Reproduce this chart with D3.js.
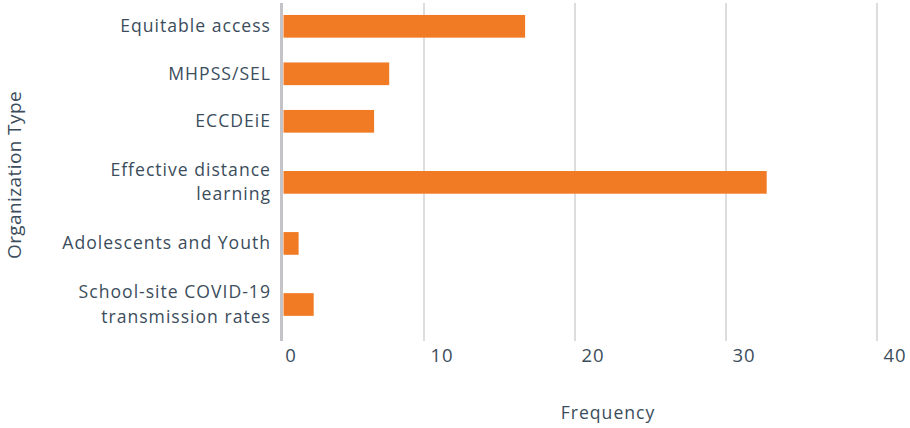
<!DOCTYPE html>
<html>
<head>
<meta charset="utf-8">
<script src="https://cdn.jsdelivr.net/npm/d3@7"></script>
<style>
  html, body { margin: 0; padding: 0; background: #fff; }
  svg { display: block; font-family: "Open Sans", "Noto Sans", sans-serif; }
</style>
</head>
<body>
<svg id="chart" width="910" height="428"></svg>
<script>
const categories = [
  "Equitable access",
  "MHPSS/SEL",
  "ECCDEiE",
  "Effective distance learning",
  "Adolescents and Youth",
  "School-site COVID-19 transmission rates"
];
const categoryLines = [
  ["Equitable access"],
  ["MHPSS/SEL"],
  ["ECCDEiE"],
  ["Effective distance", "learning"],
  ["Adolescents and Youth"],
  ["School-site COVID-19", "transmission rates"]
];
const values = [16, 7, 6, 32, 1, 2];
const xTicks = [0, 10, 20, 30, 40];
const xTitle = "Frequency";
const yTitle = "Organization Type";

const svg = d3.select("#chart");
const textColor = "#3b4d5c";
const barColor = "#f17b24";

const x = d3.scaleLinear().domain([0, 40]).range([283.5, 887.5]);
const y = d3.scaleLinear().domain([0, 2, 5]).range([26.3, 121.3, 304.5]);
const barH = 22.7;
const plotTop = 3, plotBottom = 341;
const gridOffset = -10.5;

// gridlines
svg.append("g").selectAll("line")
  .data(xTicks.filter(t => t > 0))
  .join("line")
  .attr("x1", d => x(d) + gridOffset)
  .attr("x2", d => x(d) + gridOffset)
  .attr("y1", plotTop).attr("y2", plotBottom)
  .attr("stroke", "#cfcfd3").attr("stroke-width", 1.4);

// bars
svg.append("g").selectAll("rect")
  .data(values)
  .join("rect")
  .attr("x", x(0))
  .attr("y", (d, i) => y(i) - barH / 2)
  .attr("width", d => x(d) - x(0))
  .attr("height", barH)
  .attr("fill", barColor);

// y axis line
svg.append("line")
  .attr("x1", x(0) - 2).attr("x2", x(0) - 2)
  .attr("y1", plotTop).attr("y2", plotBottom)
  .attr("stroke", "#c3c3c8").attr("stroke-width", 3);

// category labels
const lineH = 24.5;
const labs = svg.append("g")
  .attr("font-size", 17.6).attr("fill", textColor).attr("text-anchor", "end")
  .attr("letter-spacing", "1px");
categoryLines.forEach((lines, i) => {
  const n = lines.length;
  const t = labs.append("text").attr("x", 271);
  lines.forEach((ln, j) => {
    t.append("tspan")
      .attr("x", 271)
      .attr("y", y(i) + (j - (n - 1) / 2) * lineH)
      .attr("dy", "0.33em")
      .text(ln);
  });
});

// x tick labels
svg.append("g").selectAll("text")
  .data(xTicks)
  .join("text")
  .attr("x", d => x(d) + 7.5)
  .attr("y", 362)
  .attr("text-anchor", "middle")
  .attr("font-size", 18.5)
  .attr("letter-spacing", "0.8px")
  .attr("fill", textColor)
  .text(d => d);

// axis titles
svg.append("text")
  .attr("x", 608).attr("y", 419)
  .attr("text-anchor", "middle")
  .attr("font-size", 17.6).attr("fill", textColor)
  .attr("letter-spacing", "1px")
  .text(xTitle);

svg.append("text")
  .attr("transform", "translate(21,175) rotate(-90)")
  .attr("text-anchor", "middle")
  .attr("font-size", 19).attr("fill", textColor)
  .attr("letter-spacing", "0.4px")
  .text(yTitle);
</script>
</body>
</html>
